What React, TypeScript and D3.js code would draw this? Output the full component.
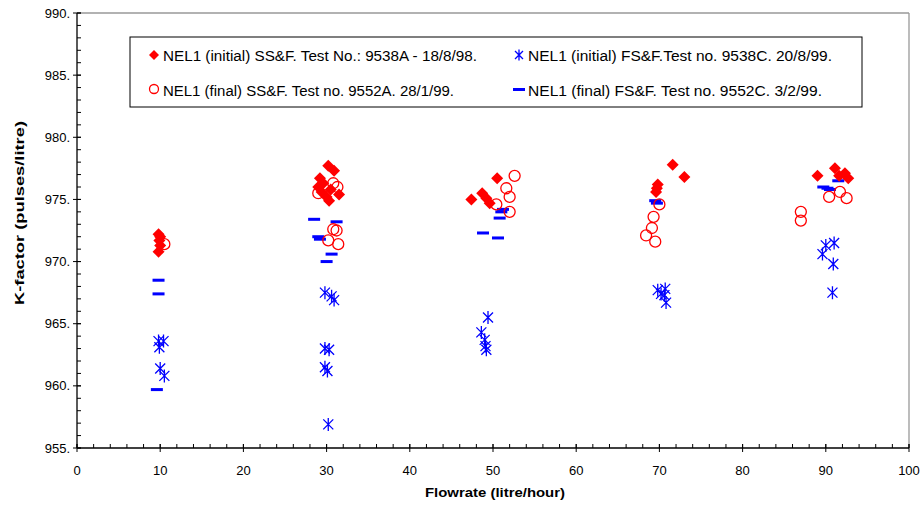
import React from "react";
import * as d3 from "d3";

const xTicks = [0, 10, 20, 30, 40, 50, 60, 70, 80, 90, 100];
const yTicks = [955, 960, 965, 970, 975, 980, 985, 990];

// NEL1 (initial) SS&F – diamonds
const initSSx = [9.8, 10.0, 9.9, 10.0, 9.8, 30.2, 30.9, 29.2, 29.6, 29.0, 30.5, 29.4, 31.5, 30.0, 30.3, 47.4, 48.7, 49.2, 49.6, 50.5, 71.6, 73.0, 69.8, 69.7, 69.6, 89.0, 91.1, 91.6, 92.3, 92.7];
const initSSy = [972.2, 972.0, 971.7, 971.3, 970.8, 977.7, 977.3, 976.7, 976.3, 976.0, 975.8, 975.6, 975.4, 975.2, 974.9, 975.0, 975.5, 975.1, 974.7, 976.7, 977.8, 976.8, 976.2, 975.9, 975.6, 976.9, 977.5, 976.9, 977.1, 976.7];

// NEL1 (final) SS&F – open circles
const finalSSx = [10.5, 29.0, 30.8, 31.3, 30.8, 31.2, 30.2, 31.4, 52.6, 51.6, 52.0, 50.4, 52.0, 70.0, 69.3, 69.1, 68.4, 69.5, 90.4, 91.7, 92.5, 87.0, 87.0];
const finalSSy = [971.4, 975.5, 976.3, 976.0, 972.6, 972.5, 971.7, 971.4, 976.9, 975.9, 975.2, 974.6, 974.0, 974.6, 973.6, 972.7, 972.1, 971.6, 975.2, 975.6, 975.1, 974.0, 973.3];

// NEL1 (initial) FS&F – asterisks
const initFSx = [9.8, 10.4, 9.9, 10.0, 10.5, 29.8, 30.6, 30.9, 29.8, 30.3, 29.8, 30.1, 30.2, 49.4, 48.6, 49.0, 49.1, 49.2, 69.8, 70.7, 70.2, 70.6, 70.8, 90.0, 91.0, 89.6, 90.9, 90.8];
const initFSy = [963.6, 963.6, 963.1, 961.4, 960.8, 967.5, 967.2, 966.9, 963.0, 962.9, 961.5, 961.2, 956.9, 965.5, 964.3, 963.7, 963.2, 962.9, 967.7, 967.8, 967.4, 967.3, 966.7, 971.3, 971.5, 970.6, 969.8, 967.5];

// NEL1 (final) FS&F – dashes
const finalFSx = [9.8, 9.8, 9.6, 28.5, 31.2, 29.0, 29.2, 30.6, 30.0, 51.2, 51.0, 50.8, 48.8, 50.6, 69.5, 69.7, 89.7, 90.2, 91.5, 90.5];
const finalFSy = [968.5, 967.4, 959.7, 973.4, 973.2, 972.0, 971.8, 970.6, 970.0, 974.2, 974.0, 973.5, 972.3, 971.9, 974.9, 974.7, 976.0, 975.9, 976.5, 975.8];

const legendLabels = [
  "NEL1 (initial) SS&F. Test No.: 9538A - 18/8/98.",
  "NEL1 (initial) FS&F.Test no. 9538C. 20/8/99.",
  "NEL1 (final) SS&F. Test no. 9552A. 28/1/99.",
  "NEL1 (final) FS&F. Test no. 9552C. 3/2/99.",
];

const RED = "#ff0000";
const BLUE = "#0000ff";
const FONT = "Liberation Sans, Arial, sans-serif";

const Diamond = ({ x, y, r = 6 }: { x: number; y: number; r?: number }) => (
  <path d={`M${x},${y - r}L${x + r},${y}L${x},${y + r}L${x - r},${y}Z`} fill={RED} />
);
const Circle = ({ x, y, r = 5.5 }: { x: number; y: number; r?: number }) => (
  <circle cx={x} cy={y} r={r} fill="none" stroke={RED} strokeWidth={1.3} />
);
const Star = ({ x, y, s = 5 }: { x: number; y: number; s?: number }) => (
  <path
    d={`M${x - s},${y - s}L${x + s},${y + s}M${x + s},${y - s}L${x - s},${y + s}M${x},${y - s - 1.5}L${x},${y + s + 1.5}`}
    stroke={BLUE}
    strokeWidth={1.3}
    fill="none"
  />
);
const Dash = ({ x, y }: { x: number; y: number }) => (
  <rect x={x - 6} y={y - 1.5} width={12} height={3} fill={BLUE} />
);

export default function App() {
  const W = 922;
  const H = 510;
  const left = 77, right = 909, top = 13, bottom = 448;
  const xs = d3.scaleLinear().domain([0, 100]).range([left, right]);
  const ys = d3.scaleLinear().domain([955, 990]).range([bottom, top]);

  const xMinor = d3.range(0, 101, 2);
  const yMinor = d3.range(955, 991, 1);

  const legendW = [314, 304, 291, 294];

  return (
    <svg width={W} height={H} style={{ position: "absolute", left: 0, top: 0 }} fontFamily={FONT}>
      <rect x={0} y={0} width={W} height={H} fill="#fff" />
      {/* plot border top/right */}
      <line x1={left} x2={right} y1={top} y2={top} stroke="#999" strokeWidth={1.3} />
      <line x1={right} x2={right} y1={top} y2={bottom} stroke="#999" strokeWidth={1.3} />

      {/* y axis */}
      <line x1={left} x2={left} y1={top} y2={bottom} stroke="#000" strokeWidth={1.3} />
      {yMinor.map((v) => (
        <line key={"ym" + v} x1={left} x2={left + 4} y1={ys(v)} y2={ys(v)} stroke="#000" strokeWidth={1} />
      ))}
      {yTicks.map((v) => (
        <g key={"y" + v}>
          <line x1={left - 4} x2={left + 4} y1={ys(v)} y2={ys(v)} stroke="#000" strokeWidth={1} />
          <text x={left - 7} y={ys(v)} dy="0.35em" textAnchor="end" fontSize={13} fill="#000">
            {v + "."}
          </text>
        </g>
      ))}

      {/* x axis */}
      <line x1={left} x2={right} y1={bottom} y2={bottom} stroke="#000" strokeWidth={1.3} />
      {xMinor.map((v) => (
        <line key={"xm" + v} x1={xs(v)} x2={xs(v)} y1={bottom - 4} y2={bottom} stroke="#000" strokeWidth={1} />
      ))}
      {xTicks.map((v) => (
        <g key={"x" + v}>
          <line x1={xs(v)} x2={xs(v)} y1={bottom - 4} y2={bottom + 4} stroke="#000" strokeWidth={1} />
          <text x={xs(v)} y={bottom + 27} textAnchor="middle" fontSize={13} fill="#000">
            {v}
          </text>
        </g>
      ))}

      {/* axis titles */}
      <text
        x={425}
        y={497}
        fontSize={13}
        fontWeight="bold"
        fill="#000"
        textLength={140}
        lengthAdjust="spacingAndGlyphs"
      >
        Flowrate (litre/hour)
      </text>
      <text
        transform={`translate(24,305) rotate(-90)`}
        fontSize={13}
        fontWeight="bold"
        fill="#000"
        textLength={184}
        lengthAdjust="spacingAndGlyphs"
      >
        K-factor (pulses/litre)
      </text>

      {/* data */}
      {finalFSx.map((x, i) => (
        <Dash key={"ffs" + i} x={xs(x)} y={ys(finalFSy[i])} />
      ))}
      {initFSx.map((x, i) => (
        <Star key={"ifs" + i} x={xs(x)} y={ys(initFSy[i])} />
      ))}
      {initSSx.map((x, i) => (
        <Diamond key={"iss" + i} x={xs(x)} y={ys(initSSy[i])} />
      ))}
      {finalSSx.map((x, i) => (
        <Circle key={"fss" + i} x={xs(x)} y={ys(finalSSy[i])} />
      ))}

      {/* legend */}
      <rect x={130} y={37} width={732} height={70} fill="#fff" stroke="#000" strokeWidth={1} />
      <Diamond x={154} y={55} r={5} />
      <text x={163} y={61} fontSize={14} fill="#000" textLength={legendW[0]} lengthAdjust="spacingAndGlyphs">
        {legendLabels[0]}
      </text>
      <Star x={519} y={55} s={4} />
      <text x={528} y={61} fontSize={14} fill="#000" textLength={legendW[1]} lengthAdjust="spacingAndGlyphs">
        {legendLabels[1]}
      </text>
      <Circle x={154} y={89} r={4.5} />
      <text x={163} y={96} fontSize={14} fill="#000" textLength={legendW[2]} lengthAdjust="spacingAndGlyphs">
        {legendLabels[2]}
      </text>
      <rect x={513} y={88} width={12} height={3} fill={BLUE} />
      <text x={528} y={96} fontSize={14} fill="#000" textLength={legendW[3]} lengthAdjust="spacingAndGlyphs">
        {legendLabels[3]}
      </text>
    </svg>
  );
}
